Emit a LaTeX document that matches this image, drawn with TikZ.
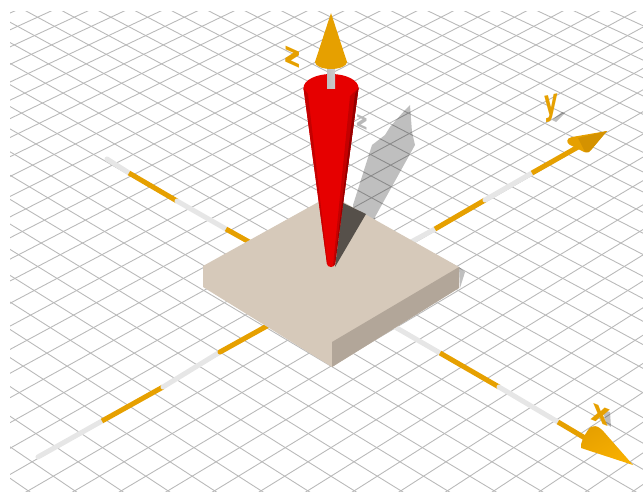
\documentclass[tikz,border=0pt]{standalone}
\usepackage{fontspec}
\setmainfont{DejaVu Sans}
\usetikzlibrary{positioning,arrows.meta,calc}
\definecolor{amber}{HTML}{E6A000}
\definecolor{amberdark}{HTML}{D49200}
\definecolor{amberlight}{HTML}{F8B000}
\definecolor{rod}{HTML}{E6E6E6}
\definecolor{slab}{HTML}{D6C9BA}
\definecolor{slabside}{HTML}{B2A699}
\definecolor{gridline}{HTML}{BABABA}
\definecolor{conered}{HTML}{E60000}
\begin{document}
\begin{tikzpicture}[
    x=1pt, y=-1pt,
    declare function={
      pw(\u,\v)=1+0.006*(\v-\u);
      px(\u,\v)=331+21.2*(\u+\v)/pw(\u,\v);
      py(\u,\v)=290.5+12.15*(\u-\v)/pw(\u,\v);
    },
    gridrule/.style={gridline, line width=0.9pt},
    rodpart/.style={rod, line width=5pt, line cap=round},
    amberpart/.style={amber, line width=5pt},
    cast/.style={fill=black, opacity=0.25},
    axislabel/.style={inner sep=0, text=amber, font=\fontsize{28}{28}\selectfont\bfseries, transform shape},
    castlabel/.style={axislabel, text=black!28}
  ]
    \useasboundingbox (0,0) rectangle (643,492);
    % ground grid
    \begin{scope}
      \clip (10,12) rectangle (643,492);
      \foreach \i in {-34,...,34} {
        \draw[gridrule] ({px(\i,-34)},{py(\i,-34)}) -- ({px(\i,34)},{py(\i,34)});
        \draw[gridrule] ({px(-34,\i)},{py(-34,\i)}) -- ({px(34,\i)},{py(34,\i)});
      }
    \end{scope}

    % shadows on the ground
    \fill[cast] (353,215) -- (353,205) -- (372,145) -- (385,135) -- (390,127) -- (405,110) -- (410,105)
      -- (412,132) -- (415,145) -- (375,217) -- (375,235) -- cycle;
    \fill[cast] (459,267) -- (465,272) -- (460,288) -- cycle;
    \fill[cast] (552,120) -- (562,112) -- (565,113) -- (556,122) -- cycle;
    \fill[cast] (603,410) -- (610,412) -- (611,427) -- (606,424) -- cycle;
    \node[castlabel, cm={0.7,-0.32,0,0.75,(0,0)}] (zcast) at (362,122) {z};

    % axes
    \coordinate (xback) at (107,159);
    \coordinate (xa) at (129,173);
    \coordinate (xb) at (177,201);
    \coordinate (xc) at (226,229);
    \coordinate (xd) at (260,248);
    \coordinate (xe) at (395,327);
    \coordinate (xf) at (440,353);
    \coordinate (xg) at (499,387);
    \coordinate (xh) at (558,422);
    \coordinate (xi) at (590,441);
    \coordinate (yback) at (38,457);
    \coordinate (ya) at (102,421);
    \coordinate (yb) at (163,387);
    \coordinate (yc) at (220,352);
    \coordinate (yd) at (267,326);
    \coordinate (ye) at (400,248);
    \coordinate (yf) at (435,229);
    \coordinate (yg) at (485,200);
    \coordinate (yh) at (532,173);
    \coordinate (yi) at (578,147);

    \draw[rodpart] (xback) -- (xa);
    \draw[amberpart] (xa) -- (xb);
    \draw[rodpart] (xb) -- (xc);
    \draw[amberpart] (xc) -- (xd);
    \draw[rodpart] (yback) -- (ya);
    \draw[amberpart] (ya) -- (yb);
    \draw[rodpart] (yb) -- (yc);
    \draw[amberpart, line cap=round] (yc) -- (yd);
    \draw[rodpart] (ye) -- (yf);
    \draw[amberpart] (yf) -- (yg);
    \draw[rodpart] (yg) -- (yh);
    \draw[amberpart] (yh) -- (yi);
    \draw[rodpart] (xe) -- (xf);
    \draw[amberpart] (xf) -- (xg);
    \draw[rodpart] (xg) -- (xh);
    \draw[amberpart] (xh) -- (xi);

    % slab
    \fill[slab] (203,266) -- (331,195) -- (459,267) -- (459,288) -- (332,367) -- (203,287) -- cycle;
    \fill[slabside] (332,342) -- (459,267) -- (459,288) -- (332,367) -- cycle;
    \fill[black!60!slab] (335,267) -- (343,203) -- (366,214) -- cycle;

    % arrow heads
    \shade[left color=amber, right color=amberlight, shading angle=30]
      (633,465) -- (604,432) .. controls (598,425) and (592,424) .. (588,430)
      .. controls (584,436) and (580,443) .. (581,448) -- cycle;
    \fill[amber] (607,131) -- (572,137) .. controls (566,138) and (566,143) .. (570,145)
      -- (584,152) .. controls (588,153) and (590,152) .. (591,150) -- cycle;
    \fill[amberdark] (607,131) -- (578,138) -- (585,152) .. controls (588,153) and (590,152) .. (591,150) -- cycle;

    % vertical axis and cone
    \fill[conered] (331,88) ellipse[x radius=27.5, y radius=14];
    \fill[conered] (303.5,88) -- (358.5,88) -- (335,264) arc[start angle=0, end angle=180, x radius=4, y radius=3] -- cycle;
    \fill[conered!85!black] (303.5,88) -- (308,94) -- (327.5,264) -- (327,264) -- cycle;
    \fill[conered!85!black] (358.5,88) -- (350,96) -- (333,266) -- (335,264) -- cycle;
    \fill[conered!65!black] (358.5,88) -- (355,94) -- (334.5,265) -- (335,264) -- cycle;
    \shade[left color=black!25, middle color=white, right color=black!20] (327,66) rectangle (335,89);
    \shade[left color=amber, middle color=amberlight, right color=amber]
      (331,13) -- (315,62) arc[start angle=180, end angle=0, x radius=16, y radius=7] -- cycle;

    % labels
    \node[axislabel, cm={1,-0.45,0,1.05,(0,0)}] (zlabel) at (293,57) {z};
    \node[axislabel, cm={0.75,0.15,0,1.25,(0,0)}] (ylabel) at (551,108) {y};
    \node[axislabel, cm={1,-0.4,0.16,1.07,(0,0)}] (xlabel) at (601,415) {x};
  \end{tikzpicture}
\end{document}
